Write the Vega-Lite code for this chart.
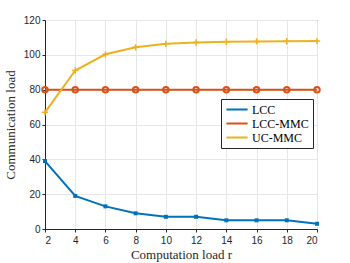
{
  "$schema": "https://vega.github.io/schema/vega-lite/v6.json",
  "width": 272,
  "height": 209,
  "autosize": {"type": "none"},
  "padding": {"left": 45, "top": 20, "right": 33, "bottom": 34},
  "background": "white",
  "config": {
    "view": {"stroke": "#262626", "strokeWidth": 1},
    "axis": {
      "grid": true, "gridColor": "#e6e6e6", "gridWidth": 1,
      "domainColor": "#262626", "tickColor": "#262626", "tickSize": 3,
      "labelFont": "Liberation Sans", "labelFontSize": 10, "labelColor": "#262626",
      "titleFont": "Liberation Serif", "titleFontSize": 13, "titleFontWeight": "normal", "titleColor": "#262626"
    },
    "legend": {"labelFont": "Liberation Serif", "labelFontSize": 12, "labelColor": "#000000"}
  },
  "data": {"values": [
    {"r": 2, "v": 39, "s": "LCC"},
    {"r": 4, "v": 19, "s": "LCC"},
    {"r": 6, "v": 13, "s": "LCC"},
    {"r": 8, "v": 9, "s": "LCC"},
    {"r": 10, "v": 7, "s": "LCC"},
    {"r": 12, "v": 7, "s": "LCC"},
    {"r": 14, "v": 5, "s": "LCC"},
    {"r": 16, "v": 5, "s": "LCC"},
    {"r": 18, "v": 5, "s": "LCC"},
    {"r": 20, "v": 3, "s": "LCC"},
    {"r": 2, "v": 80, "s": "LCC-MMC"},
    {"r": 4, "v": 80, "s": "LCC-MMC"},
    {"r": 6, "v": 80, "s": "LCC-MMC"},
    {"r": 8, "v": 80, "s": "LCC-MMC"},
    {"r": 10, "v": 80, "s": "LCC-MMC"},
    {"r": 12, "v": 80, "s": "LCC-MMC"},
    {"r": 14, "v": 80, "s": "LCC-MMC"},
    {"r": 16, "v": 80, "s": "LCC-MMC"},
    {"r": 18, "v": 80, "s": "LCC-MMC"},
    {"r": 20, "v": 80, "s": "LCC-MMC"},
    {"r": 2, "v": 67, "s": "UC-MMC"},
    {"r": 4, "v": 91, "s": "UC-MMC"},
    {"r": 6, "v": 100.3, "s": "UC-MMC"},
    {"r": 8, "v": 104.3, "s": "UC-MMC"},
    {"r": 10, "v": 106.3, "s": "UC-MMC"},
    {"r": 12, "v": 107.1, "s": "UC-MMC"},
    {"r": 14, "v": 107.5, "s": "UC-MMC"},
    {"r": 16, "v": 107.7, "s": "UC-MMC"},
    {"r": 18, "v": 107.8, "s": "UC-MMC"},
    {"r": 20, "v": 107.9, "s": "UC-MMC"}
  ]},
  "encoding": {
    "x": {"field": "r", "type": "quantitative", "scale": {"domain": [2, 20], "nice": false, "zero": false},
      "axis": {"values": [2,4,6,8,10,12,14,16,18,20], "title": "Computation load r", "titlePadding": 3, "labelPadding": 3}},
    "y": {"field": "v", "type": "quantitative", "scale": {"domain": [0, 120], "nice": false},
      "axis": {"values": [0,20,40,60,80,100,120], "title": "Communication load", "titlePadding": 6, "labelPadding": 2}},
    "color": {"field": "s", "type": "nominal",
      "scale": {"domain": ["LCC", "LCC-MMC", "UC-MMC"], "range": ["#0072BD", "#D95319", "#EDB120"]},
      "legend": {"title": null, "orient": "none", "legendX": 176, "legendY": 79,
        "fillColor": "white", "strokeColor": "#262626", "padding": 4,
        "labelFont": "Liberation Serif", "labelFontSize": 12, "labelColor": "#000000",
        "symbolType": "stroke", "symbolStrokeWidth": 2, "symbolSize": 450, "clipHeight": 13, "rowPadding": 1, "labelOffset": 3}}
  },
  "layer": [
    {"mark": {"type": "line", "strokeWidth": 2}},
    {"transform": [{"filter": "datum.s === 'LCC'"}],
     "mark": {"type": "point", "shape": "square", "filled": true, "size": 16, "opacity": 1}},
    {"transform": [{"filter": "datum.s === 'LCC-MMC'"}],
     "mark": {"type": "point", "shape": "circle", "filled": false, "strokeWidth": 2, "size": 30, "opacity": 1}},
    {"transform": [{"filter": "datum.s === 'UC-MMC'"}],
     "mark": {"type": "point", "shape": "M-1,0H1M0,-1V1", "filled": false, "strokeWidth": 1.5, "size": 40, "opacity": 1}}
  ]
}
